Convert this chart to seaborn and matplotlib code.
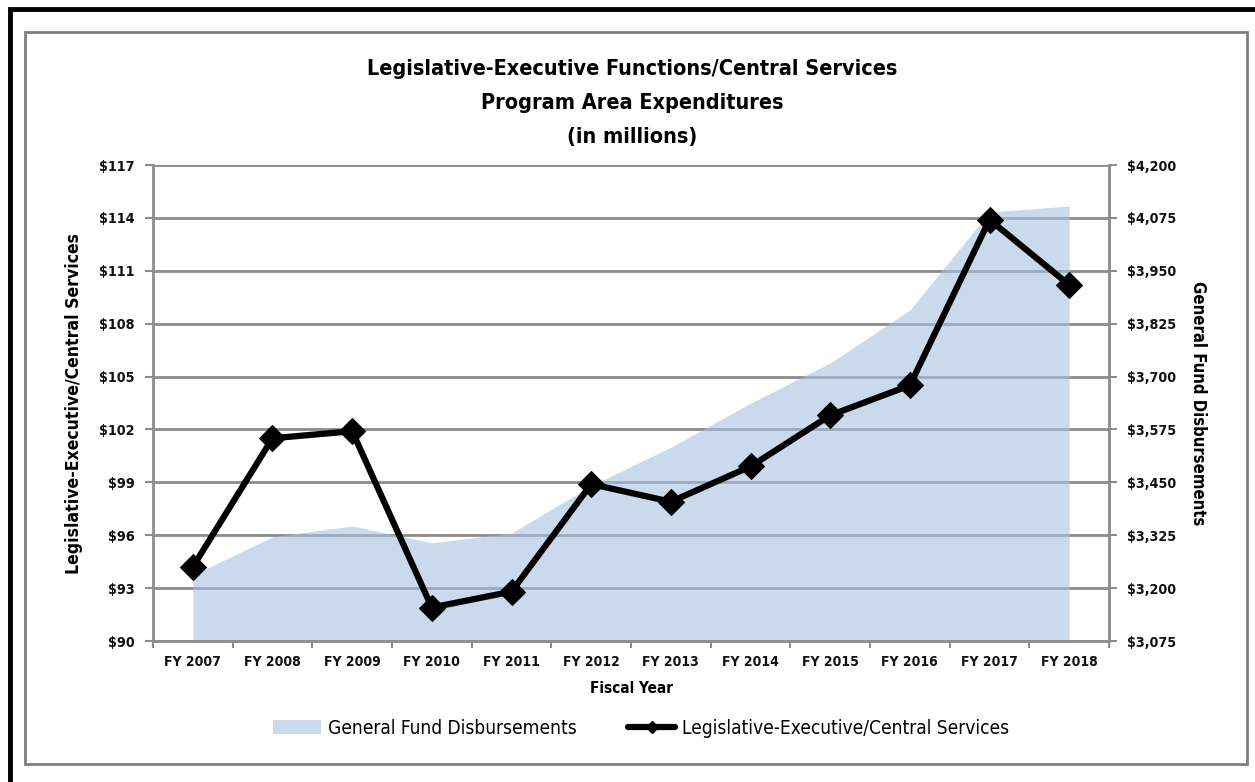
import numpy as np
import pandas as pd
import seaborn as sns
import matplotlib.pyplot as plt
from matplotlib import font_manager
from matplotlib.patches import Rectangle, Patch
from matplotlib.lines import Line2D

# values
years = ['FY 2007', 'FY 2008', 'FY 2009', 'FY 2010', 'FY 2011', 'FY 2012',
         'FY 2013', 'FY 2014', 'FY 2015', 'FY 2016', 'FY 2017', 'FY 2018']
leg_exec = [94.2, 101.5, 101.9, 91.9, 92.8, 98.9, 97.9, 99.9, 102.8, 104.5, 113.9, 110.2]
general_fund = [3231, 3321, 3347, 3307, 3330, 3442, 3533, 3637, 3732, 3857, 4089, 4103]

left_ticks = list(range(90, 118, 3))
right_ticks = list(range(3075, 4201, 125))

title = 'Legislative-Executive Functions/Central Services\nProgram Area Expenditures\n(in millions)'
area_label = 'General Fund Disbursements'
line_label = 'Legislative-Executive/Central Services'

df = pd.DataFrame({'year': years, 'pos': np.arange(len(years)),
                   'leg': leg_exec, 'gf': general_fund})

# pick a condensed sans family if one is installed
fonts = font_manager.fontManager.ttflist
names = {f.name for f in fonts}
stretch = 'normal'
if any(f.name == 'DejaVu Sans' and f.stretch == 'condensed' for f in fonts):
    family, k, stretch = 'DejaVu Sans', 1.0, 'condensed'
elif 'Liberation Sans Narrow' in names:
    family, k = 'Liberation Sans Narrow', 1.05
else:
    family, k = 'Liberation Sans', 0.9

sns.set_style('white')
plt.rcParams['font.family'] = [family, 'DejaVu Sans']
plt.rcParams['font.stretch'] = stretch
plt.rcParams['text.color'] = 'black'
plt.rcParams['axes.labelcolor'] = 'black'
plt.rcParams['xtick.labelcolor'] = '#111111'
plt.rcParams['ytick.labelcolor'] = '#111111'

fig = plt.figure(figsize=(12.55, 7.82), dpi=100)
grid_c = '#8c8c8c'

ax_r = fig.add_axes([0.1219, 0.1803, 0.7618, 0.6087])
ax_l = ax_r.twinx()

# right axis: area, drawn behind the line
ax_r.fill_between(df['pos'], 3075, df['gf'], color='#a8c0e0', alpha=0.6,
                  linewidth=0, zorder=2)
ax_r.set_ylim(3075, 4200)
ax_r.set_yticks(right_ticks)
ax_r.set_yticklabels([f'${v:,}' for v in right_ticks])
ax_r.yaxis.tick_right()
ax_r.yaxis.set_label_position('right')
ax_r.grid(axis='y', color=grid_c, linewidth=2, zorder=1)
ax_r.set_axisbelow(True)
ax_r.set_xlim(-0.5, len(years) - 0.5)
ax_r.set_xticks(np.arange(-0.5, len(years), 1))
ax_r.set_xticklabels([])
ax_r.set_xticks(df['pos'], minor=True)
ax_r.set_xticklabels(years, minor=True)
ax_r.tick_params(axis='x', which='major', length=5, width=1.5, color=grid_c, direction='out', bottom=True)
ax_r.tick_params(axis='x', which='minor', length=0, pad=10, labelsize=10 * k)
ax_r.tick_params(axis='y', length=6, width=1.5, color=grid_c, direction='out', right=True, left=False,
                 labelright=True, labelleft=False, labelsize=10.3 * k, pad=7)
for lbl in ax_r.get_xticklabels(minor=True) + ax_r.get_yticklabels():
    lbl.set_fontweight('bold')
ax_r.set_ylabel(area_label, rotation=270, fontsize=12 * k, fontweight='bold', labelpad=22)
ax_r.set_xlabel('Fiscal Year', fontsize=11 * k, fontweight='bold', labelpad=9)
ax_r.spines['top'].set_visible(False)
for side in ['left', 'right', 'bottom']:
    ax_r.spines[side].set_color(grid_c)
    ax_r.spines[side].set_linewidth(2)

# left axis: line
sns.lineplot(data=df, x='pos', y='leg', ax=ax_l, color='black', linewidth=4.5,
             marker='D', markersize=13, markeredgecolor='black', zorder=5)
ax_l.yaxis.tick_left()
ax_l.yaxis.set_label_position('left')
ax_l.set_ylim(90, 117)
ax_l.set_yticks(left_ticks)
ax_l.set_yticklabels([f'${v}' for v in left_ticks])
ax_l.set_xlim(-0.5, len(years) - 0.5)
ax_l.tick_params(axis='y', length=6, width=1.5, color=grid_c, direction='out', left=True, right=False,
                 labelleft=True, labelright=False, labelsize=10.3 * k, pad=7)
for lbl in ax_l.get_yticklabels():
    lbl.set_fontweight('bold')
ax_l.set_ylabel(line_label, fontsize=12.6 * k, fontweight='bold', labelpad=12)
ax_l.set_xlabel('')
for side in ax_l.spines:
    ax_l.spines[side].set_visible(False)
ax_l.patch.set_visible(False)

fig.text(0.504, 0.925, title, ha='center', va='top', fontsize=15.5 * k, fontweight='bold',
         linespacing=1.9, color='black')

handles = [Patch(facecolor='#cbd9ec', edgecolor='none'),
           Line2D([0], [0], color='black', linewidth=4.5, marker='D', markersize=6)]
fig.legend(handles, [area_label, line_label], loc='center', bbox_to_anchor=(0.511, 0.069),
           ncol=2, frameon=False, fontsize=13.7 * k, handlelength=2.5, columnspacing=2.7,
           handletextpad=0.35)

# outer black frame and inner grey chart border
fig.patches.append(Rectangle((0.008, -0.1), 1.1, 1.0885, transform=fig.transFigure,
                             fill=False, edgecolor='black', linewidth=3.5))
fig.patches.append(Rectangle((0.0199, 0.023), 0.9737, 0.936, transform=fig.transFigure,
                             fill=False, edgecolor='#7f7f7f', linewidth=2))

fig.savefig('out.png', dpi=100, facecolor='white')
